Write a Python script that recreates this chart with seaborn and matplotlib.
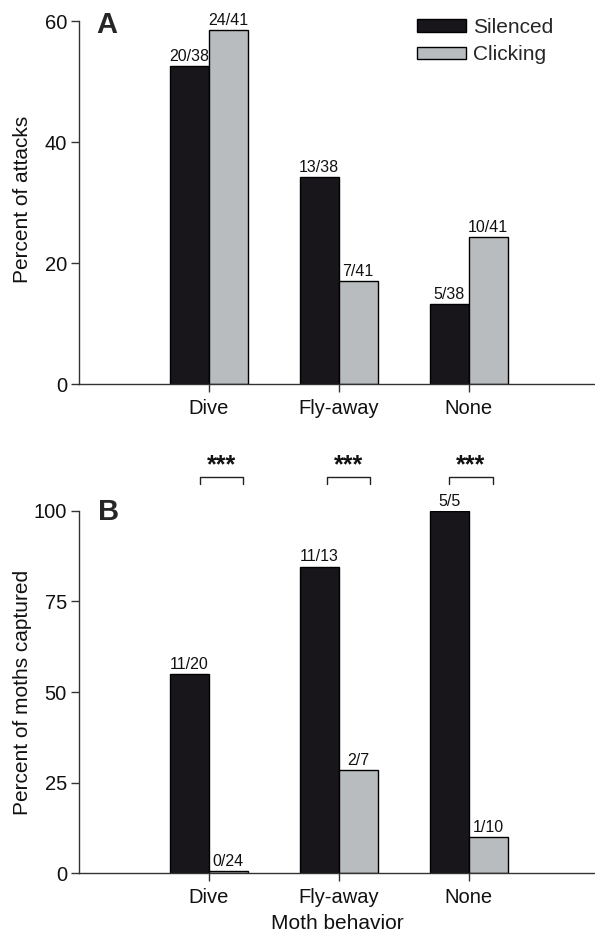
import matplotlib
matplotlib.use("Agg")
import matplotlib.pyplot as plt
import seaborn as sns
import pandas as pd

# ---- data ----
behaviors = ["Dive", "Fly-away", "None"]
conditions = ["Silenced", "Clicking"]

attack_silenced = [52.6, 34.2, 13.2]
attack_clicking = [58.5, 17.1, 24.4]
attack_lbl_silenced = ["20/38", "13/38", "5/38"]
attack_lbl_clicking = ["24/41", "7/41", "10/41"]

capture_silenced = [55.0, 84.6, 100.0]
capture_clicking = [0.7, 28.6, 10.0]
capture_lbl_silenced = ["11/20", "11/13", "5/5"]
capture_lbl_clicking = ["0/24", "2/7", "1/10"]

signif = ["***", "***", "***"]

yticks_a = [0, 20, 40, 60]
yticks_b = [0, 25, 50, 75, 100]

# ---- style ----
sns.set_style("white")
plt.rcParams["font.family"] = ["Liberation Sans", "DejaVu Sans"]
colors = {"Silenced": "#18161b", "Clicking": "#b9bcbe"}
axis_col = "#333333"

fig = plt.figure(figsize=(5.95, 9.32), dpi=100)
W, H = 595.0, 932.0
ax_left = 78.7
axA = fig.add_axes([ax_left / W, (H - 384.3) / H, (W - ax_left) / W, (384.3 - 21.3) / H])
axB = fig.add_axes([ax_left / W, (H - 873.3) / H, (W - ax_left) / W, (873.3 - 510.7) / H])


def make_df(sil, clk):
    return pd.DataFrame({
        "behavior": behaviors * 2,
        "condition": [conditions[0]] * 3 + [conditions[1]] * 3,
        "value": list(sil) + list(clk),
    })


def draw(ax, sil, clk, lsil, lclk, yticks, ylabel):
    df = make_df(sil, clk)
    sns.barplot(data=df, x="behavior", y="value", hue="condition",
                order=behaviors, hue_order=conditions, palette=colors,
                width=0.6, edgecolor="black", linewidth=1.0, saturation=1,
                errorbar=None, ax=ax)
    for cont, labels in zip(ax.containers, [lsil, lclk]):
        ax.bar_label(cont, labels=labels, padding=1.5, fontsize=11.5, color="#111111")
    ax.set_xlim(-1, -1 + (W - ax_left) / 130.0)
    ax.set_ylim(0, yticks[-1])
    ax.set_yticks(yticks)
    ax.set_yticklabels([str(t) for t in yticks])
    ax.set_xlabel("")
    ax.set_ylabel(ylabel, fontsize=15, color="#111111")
    for s in ["top", "right"]:
        ax.spines[s].set_visible(False)
    for s in ["left", "bottom"]:
        ax.spines[s].set_color(axis_col)
        ax.spines[s].set_linewidth(1.0)
    ax.tick_params(axis="both", which="both", direction="out", length=5.5,
                   width=1.0, color=axis_col, labelsize=14.5, labelcolor="#111111",
                   left=True, bottom=True, pad=3)
    ax.tick_params(axis="x", pad=5)


draw(axA, attack_silenced, attack_clicking, attack_lbl_silenced,
     attack_lbl_clicking, yticks_a, "Percent of attacks")
draw(axB, capture_silenced, capture_clicking, capture_lbl_silenced,
     capture_lbl_clicking, yticks_b, "Percent of moths captured")
axA.yaxis.set_label_coords(-0.091, 0.51)
axB.yaxis.set_label_coords(-0.091, 0.5)

axB.set_xlabel("Moth behavior", fontsize=15, color="#111111", labelpad=5)

# legend
axA.get_legend().remove()
handles = [plt.Rectangle((0, 0), 1, 1, facecolor=colors[c], edgecolor="black", linewidth=1.0)
           for c in conditions]
axA.legend(handles, conditions, loc="upper left",
           bbox_to_anchor=((416.7 - ax_left) / (W - ax_left), 1.009),
           frameon=False, fontsize=15, handlelength=2.35, handleheight=0.56,
           handletextpad=0.34, labelspacing=0.4, borderpad=0, borderaxespad=0)
axB.get_legend().remove()

# panel letters
fig.text(96 / W, 1 - 33 / H, "A", fontsize=21, fontweight="bold", ha="left", va="baseline")
fig.text(98 / W, 1 - 520 / H, "B", fontsize=21, fontweight="bold", ha="left", va="baseline")

# significance brackets above panel B
br_left = [-0.067, -0.092, -0.152]
br_right = [0.264, 0.241, 0.185]
y_top, y_bot, y_star = 109.4, 107.4, 110.5
for i, s in enumerate(signif):
    x0, x1 = i + br_left[i], i + br_right[i]
    axB.plot([x0, x0, x1, x1], [y_bot, y_top, y_top, y_bot], color="#222222",
             linewidth=1.0, clip_on=False)
    axB.text((x0 + x1) / 2, y_star, s, ha="center", va="baseline", fontsize=18,
             fontweight="bold", color="#111111", clip_on=False)

fig.savefig("out.png", dpi=100)
